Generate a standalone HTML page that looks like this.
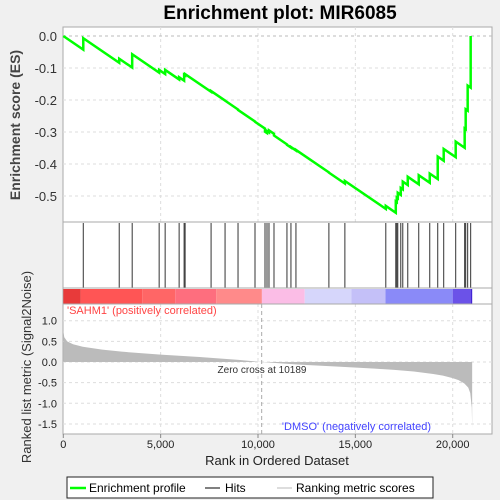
<!DOCTYPE html>
<html><head><meta charset="utf-8"><style>
body{margin:0;background:#f0f0f0;}
svg{display:block;font-family:"Liberation Sans","DejaVu Sans",sans-serif;}
</style></head><body>
<svg id="c" width="500" height="500" xmlns="http://www.w3.org/2000/svg">
<text x="280" y="19" text-anchor="middle" font-size="19" font-weight="bold">Enrichment plot: MIR6085</text>
<rect x="63" y="27" width="429" height="407" fill="#fff" stroke="#aaa"/>
<g id="grid"></g>
<g id="bars"></g>
<g id="metric"></g>
<g id="es"></g>
<g id="axes"></g>
<text x="20" y="125" transform="rotate(-90 20 125)" text-anchor="middle" font-size="14" font-weight="bold" fill="#444">Enrichment score (ES)</text>
<text x="31" y="367" transform="rotate(-90 31 367)" text-anchor="middle" font-size="13" fill="#333">Ranked list metric (Signal2Noise)</text>
<text x="277" y="465" text-anchor="middle" font-size="13" fill="#222">Rank in Ordered Dataset</text>
<text x="67" y="314" font-size="11" fill="#f44">'SAHM1' (positively correlated)</text>
<text x="431" y="430" text-anchor="end" font-size="11" fill="#44f">'DMSO' (negatively correlated)</text>
<text x="262" y="373" text-anchor="middle" font-size="10" fill="#333">Zero cross at 10189</text>
<g>
<rect x="67" y="477" width="366" height="21" fill="#fff" stroke="#222"/>
<line x1="70" y1="488" x2="86" y2="488" stroke="#0f0" stroke-width="2.5"/>
<text x="89" y="492" font-size="12">Enrichment profile</text>
<line x1="205" y1="488" x2="220" y2="488" stroke="#000"/>
<text x="225" y="492" font-size="12">Hits</text>
<line x1="277" y1="488" x2="292" y2="488" stroke="#bbb"/>
<text x="296" y="492" font-size="12">Ranking metric scores</text>
</g>
</svg>
<script>
const hitRanks=[1026,2872,3538,4923,5231,5949,6205,6256,7590,8308,8974,9846,10359,10462,10564,10821,11487,11692,11949,13641,14462,16564,17077,17128,17179,17333,17436,17692,18256,18821,19231,19538,20154,20615,20667,20769,20923];
const esAfterHit=[-0.007,-0.071,-0.057,-0.106,-0.106,-0.129,-0.121,-0.119,-0.172,-0.202,-0.231,-0.268,-0.299,-0.297,-0.295,-0.311,-0.34,-0.347,-0.356,-0.427,-0.453,-0.531,-0.517,-0.505,-0.49,-0.475,-0.455,-0.44,-0.435,-0.43,-0.377,-0.353,-0.33,-0.289,-0.229,-0.155,0.0];
const metricRanks=[0,50,200,500,1000,2000,3000,5000,7000,9000,10189,12000,14000,16000,17000,18000,19000,19500,20000,20300,20600,20800,20900,20980,21000];
const metricValues=[0.75,0.6,0.5,0.43,0.37,0.3,0.25,0.18,0.12,0.05,0,-0.06,-0.11,-0.16,-0.19,-0.23,-0.29,-0.33,-0.39,-0.44,-0.52,-0.62,-0.75,-1.1,-1.6];
const esTicks=[0,-0.1,-0.2,-0.3,-0.4,-0.5];
const metricTicks=[1.0,0.5,0,-0.5,-1.0,-1.5];
const xTicks=[0,5000,10000,15000,20000];
const colorStops=[[0,"#e83a3a"],[900,"#f55"],[4050,"#f66"],[5750,"#fe6e7e"],[7850,"#ff8a8a"],[10200,"#fbbde6"],[12400,"#d6d6fb"],[14800,"#c4c0f8"],[16550,"#8a8af8"],[20000,"#6b52e8"],[20950,"#2200cc"],[21000,null]];
const slope=-0.0000415;
const NS="http://www.w3.org/2000/svg";
const X=r=>63.3+r*0.01947;
const YE=v=>36-v*320;
const YM=v=>362-v*41.3;
function el(t,a,p){const e=document.createElementNS(NS,t);for(const k in a)e.setAttribute(k,a[k]);document.getElementById(p).appendChild(e);return e;}
for(const t of xTicks){if(t===0)continue;
 const g1=el('line',{x1:X(t),x2:X(t),y1:27,y2:222,stroke:'#ddd','stroke-dasharray':'3,3'},'grid');
 
 
 const g2=el('line',{x1:X(t),x2:X(t),y1:304,y2:434,stroke:'#ddd','stroke-dasharray':'3,3'},'grid');
 
 }
for(const t of esTicks){const g=el('line',{x1:63,x2:492,y1:YE(t),y2:YE(t),stroke:t===0?'#bbb':'#ddd','stroke-dasharray':'3,3'},'grid');
 
 
 const tx=el('text',{x:57,y:YE(t)+5,'text-anchor':'end','font-size':13,fill:'#333'},'axes');tx.textContent=t.toFixed(1);
 
 }
for(const t of metricTicks){const g=el('line',{x1:63,x2:492,y1:YM(t),y2:YM(t),stroke:'#ddd','stroke-dasharray':'3,3'},'grid');
 
 
 const tx=el('text',{x:57,y:YM(t)+4,'text-anchor':'end','font-size':11,fill:'#222'},'axes');tx.textContent=t.toFixed(1);
 
 }
for(const t of xTicks){const tx=el('text',{x:X(t),y:448,'text-anchor':'middle','font-size':11,fill:'#222'},'axes');tx.textContent=t.toLocaleString('en-US');
 
 
 const tk=el('line',{x1:X(t),x2:X(t),y1:434,y2:438,stroke:'#888'},'axes');
 
 }
const zl=el('line',{x1:X(10189),x2:X(10189),y1:304,y2:434,stroke:'#aaa','stroke-dasharray':'4,3'},'grid');


for(const y of [222,288,304]){const s=el('line',{x1:63,x2:492,y1:y,y2:y,stroke:'#aaa'},'axes');
 
 }
for(let i=0;i<colorStops.length-1;i++){const r=el('rect',{x:X(colorStops[i][0]),y:289,width:X(colorStops[i+1][0])-X(colorStops[i][0]),height:15,fill:colorStops[i][1]},'bars');
 
 }
for(const h of hitRanks){const l=el('line',{x1:X(h),x2:X(h),y1:223,y2:288,stroke:'#333','stroke-width':1},'bars');
 
 }
let d='M'+X(metricRanks[0])+','+YM(0);
for(let i=0;i<metricRanks.length;i++)d+=' L'+X(metricRanks[i])+','+YM(metricValues[i]);
d+=' L'+X(metricRanks[metricRanks.length-1])+','+YM(0)+' Z';
const mp=el('path',{d:d,fill:'#bbb',stroke:'none'},'metric');


let pts=[[0,0]],prevR=0,prevE=0;
for(let i=0;i<hitRanks.length;i++){const before=prevE+slope*(hitRanks[i]-prevR);pts.push([hitRanks[i],before]);pts.push([hitRanks[i],esAfterHit[i]]);prevR=hitRanks[i];prevE=esAfterHit[i];}
const ep=el('polyline',{points:pts.map(p=>X(p[0])+','+YE(p[1])).join(' '),fill:'none',stroke:'#0f0','stroke-width':2.5},'es');


</script>
</body></html>
